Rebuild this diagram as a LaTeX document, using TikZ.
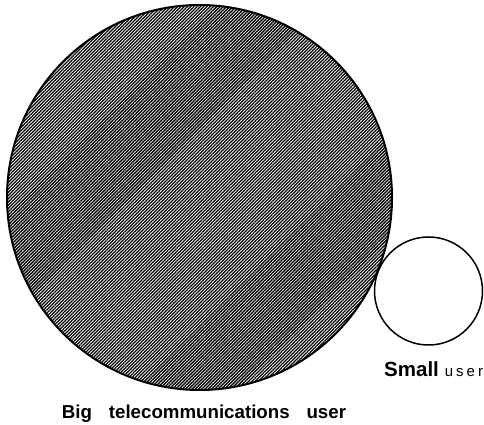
\documentclass[tikz,border=0pt]{standalone}
\usepackage{fontspec}
\setmainfont{Liberation Sans}
\usepackage{tikz}
\usetikzlibrary{patterns.meta}

\begin{document}
\begin{tikzpicture}[x=1pt,y=1pt,
  userdisc/.style={circle,draw=black,inner sep=0pt},
  biglabel/.style={font=\fontsize{18.7}{20}\selectfont\bfseries,anchor=base,inner sep=0pt},
  smalllabel/.style={anchor=base west,inner sep=0pt}
]
  \useasboundingbox (0,0) rectangle (484,425);

  % Big user
  \node[userdisc,line width=2pt,minimum size=385pt,
    pattern={Lines[angle=45,distance=2.3pt,line width=1.3pt]}] (big) at (199.5,227.5) {};

  % Small user
  \node[userdisc,line width=1.5pt,minimum size=108pt,fill=white] (small) at (428.5,134) {};

  % Labels
  \node[biglabel] (biglbl) at (204,6)
    {Big\hspace{0.9em}telecommunications\hspace{0.9em}user};
  \node[smalllabel] (smalllbl) at (384,48)
    {{\fontsize{20.5}{22}\selectfont\bfseries Small}\hspace{6pt}{\fontsize{15}{16}\selectfont\addfontfeature{LetterSpace=20}user}};
\end{tikzpicture}
\end{document}
